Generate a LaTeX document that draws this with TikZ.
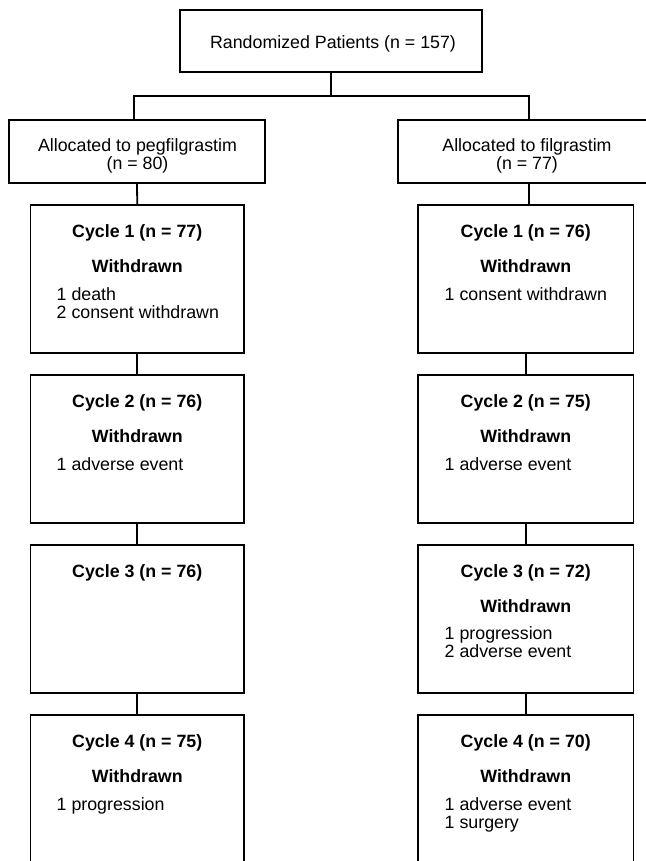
\documentclass[tikz,border=0pt]{standalone}
\usepackage{fontspec}
\setmainfont{Liberation Sans}
\begin{document}
\begin{tikzpicture}[x=1pt,y=-1pt,
  every node/.style={inner sep=0pt, font=\fontsize{17.8}{18.3}\selectfont},
  frame/.style={draw, line width=1.8pt},
  topbox/.style={frame, minimum width=302pt, minimum height=62pt},
  allocbox/.style={frame, minimum height=63pt},
  cycbox/.style={frame, minimum height=148pt},
  lastbox/.style={frame, minimum height=200pt},
  ttl/.style={anchor=base, font=\fontsize{17.8}{18.3}\selectfont\bfseries},
  itm/.style={anchor=base west},
  txt/.style={anchor=base},
  link/.style={line width=1.8pt}]
\useasboundingbox (0,0) rectangle (645,861);

% top
\node[topbox, anchor=north] (top) at (331,9) {};
\node[txt] (toptxt) at (333,48.4) {Randomized Patients (n = 157)};

% allocation boxes
\node[allocbox, minimum width=256pt, anchor=north] (allocL) at (137,119) {};
\node[txt] (aL1) at (137.5,151.4) {Allocated to pegfilgrastim};
\node[txt] (aL2) at (137.5,169.7) {(n = 80)};
\node[allocbox, minimum width=262pt, anchor=north] (allocR) at (529,119) {};
\node[txt] (aR1) at (527,151.4) {Allocated to filgrastim};
\node[txt] (aR2) at (527,169.7) {(n = 77)};

% left column
\node[cycbox, minimum width=213.5pt, anchor=north] (c1L) at (137.25,204) {};
\node[ttl] (c1Lt) at (137.25,237.4) {Cycle 1 (n = 77)};
\node[ttl] (c1Lw) at (137.25,272.4) {Withdrawn};
\node[itm] (c1La) at (56.5,300.4) {1 death};
\node[itm] (c1Lb) at (56.5,318.7) {2 consent withdrawn};

\node[cycbox, minimum width=213.5pt, anchor=north] (c2L) at (137.25,374) {};
\node[ttl] (c2Lt) at (137.25,407.4) {Cycle 2 (n = 76)};
\node[ttl] (c2Lw) at (137.25,442.4) {Withdrawn};
\node[itm] (c2La) at (56.5,470.4) {1 adverse event};

\node[cycbox, minimum width=213.5pt, anchor=north] (c3L) at (137.25,544) {};
\node[ttl] (c3Lt) at (137.25,577.4) {Cycle 3 (n = 76)};

\node[lastbox, minimum width=213.5pt, anchor=north] (c4L) at (137.25,714) {};
\node[ttl] (c4Lt) at (137.25,747.4) {Cycle 4 (n = 75)};
\node[ttl] (c4Lw) at (137.25,782.4) {Withdrawn};
\node[itm] (c4La) at (56.5,810.4) {1 progression};

% right column
\node[cycbox, minimum width=215.5pt, anchor=north] (c1R) at (525.75,204) {};
\node[ttl] (c1Rt) at (525.75,237.4) {Cycle 1 (n = 76)};
\node[ttl] (c1Rw) at (525.75,272.4) {Withdrawn};
\node[itm] (c1Ra) at (444.5,300.4) {1 consent withdrawn};

\node[cycbox, minimum width=215.5pt, anchor=north] (c2R) at (525.75,374) {};
\node[ttl] (c2Rt) at (525.75,407.4) {Cycle 2 (n = 75)};
\node[ttl] (c2Rw) at (525.75,442.4) {Withdrawn};
\node[itm] (c2Ra) at (444.5,470.4) {1 adverse event};

\node[cycbox, minimum width=215.5pt, anchor=north] (c3R) at (525.75,544) {};
\node[ttl] (c3Rt) at (525.75,577.4) {Cycle 3 (n = 72)};
\node[ttl] (c3Rw) at (525.75,612.4) {Withdrawn};
\node[itm] (c3Ra) at (444.5,639.4) {1 progression};
\node[itm] (c3Rb) at (444.5,657.7) {2 adverse event};

\node[lastbox, minimum width=215.5pt, anchor=north] (c4R) at (525.75,714) {};
\node[ttl] (c4Rt) at (525.75,747.4) {Cycle 4 (n = 70)};
\node[ttl] (c4Rw) at (525.75,782.4) {Withdrawn};
\node[itm] (c4Ra) at (444.5,810.4) {1 adverse event};
\node[itm] (c4Rb) at (444.5,828.7) {1 surgery};

% connectors
\coordinate (j) at (331,96);
\draw[link] (top.south) -- (j);
\draw[link] (allocL.north -| 134,0) |- (j) -| (allocR.north);
\draw[link] (allocL.south) -- (c1L.north);
\draw[link] (c1L.south) -- (c2L.north);
\draw[link] (c2L.south) -- (c3L.north);
\draw[link] (c3L.south) -- (c4L.north);
\draw[link] (allocR.south) -- (allocR.south |- c1R.north);
\draw[link] (c1R.south) -- (c2R.north);
\draw[link] (c2R.south) -- (c3R.north);
\draw[link] (c3R.south) -- (c4R.north);
\end{tikzpicture}
\end{document}
